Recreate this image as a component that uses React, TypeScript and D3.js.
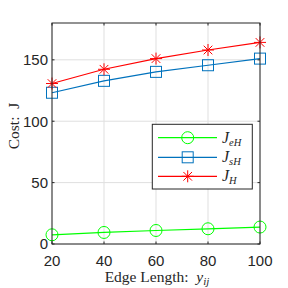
import React from "react";
import * as d3 from "d3";

const xValues = [20, 40, 60, 80, 100];
const seriesJeH = [7.5, 9.4, 11, 12.4, 13.8];
const seriesJsH = [123.2, 132.9, 140.2, 145.6, 151];
const seriesJH = [130.7, 142.3, 151, 158, 164.2];
const xTicks = [20, 40, 60, 80, 100];
const yTicks = [0, 50, 100, 150];

const W = 288, H = 288;
const L = 52, R = 260, T = 23, B = 244;

function Marker({ type, x, y, color }: { type: string; x: number; y: number; color: string }) {
  if (type === "circle") return <circle cx={x} cy={y} r={6} fill="none" stroke={color} strokeWidth={1} />;
  if (type === "square") return <rect x={x - 5.5} y={y - 5.5} width={11} height={11} fill="none" stroke={color} strokeWidth={1} />;
  const s = 6;
  const d = s * 0.72;
  return (
    <g stroke={color} strokeWidth={1}>
      <line x1={x - s} y1={y} x2={x + s} y2={y} />
      <line x1={x} y1={y - s} x2={x} y2={y + s} />
      <line x1={x - d} y1={y - d} x2={x + d} y2={y + d} />
      <line x1={x - d} y1={y + d} x2={x + d} y2={y - d} />
    </g>
  );
}

export default function App() {
  const x = d3.scaleLinear().domain([20, 100]).range([L, R]);
  const y = d3.scaleLinear().domain([0, 180]).range([B, T]);
  const line = d3.line<number>().x((_, i) => x(xValues[i])).y((d) => y(d));
  const series = [
    { data: seriesJeH, color: "#00FF00", marker: "circle", name: "eH" },
    { data: seriesJsH, color: "#0072BD", marker: "square", name: "sH" },
    { data: seriesJH, color: "#FF0000", marker: "star", name: "H" },
  ];
  const tickFont = "Liberation Sans, Arial, sans-serif";
  const serif = "Liberation Serif, Times New Roman, serif";
  const legendRows = [137.7, 157.3, 176.3];
  return (
    <svg width={W} height={H} style={{ position: "absolute", left: 0, top: 0, background: "#fff" }}>
      <rect x={0} y={0} width={W} height={H} fill="#fff" />
      <rect x={L} y={T} width={R - L} height={B - T} fill="#fff" />
      {xTicks.map((t) => (
        <line key={"gx" + t} x1={x(t)} x2={x(t)} y1={T} y2={B} stroke="#dfdfdf" strokeWidth={1} />
      ))}
      {yTicks.map((t) => (
        <line key={"gy" + t} x1={L} x2={R} y1={y(t)} y2={y(t)} stroke="#dfdfdf" strokeWidth={1} />
      ))}
      {series.map((s) => (
        <g key={s.name}>
          <path d={line(s.data) || ""} fill="none" stroke={s.color} strokeWidth={1.2} />
          {s.data.map((v, i) => (
            <Marker key={i} type={s.marker} x={x(xValues[i])} y={y(v)} color={s.color} />
          ))}
        </g>
      ))}
      <rect x={L} y={T} width={R - L} height={B - T} fill="none" stroke="#262626" strokeWidth={1} />
      {xTicks.map((t) => (
        <g key={"tx" + t}>
          <line x1={x(t)} x2={x(t)} y1={B} y2={B - 2.5} stroke="#262626" />
          <line x1={x(t)} x2={x(t)} y1={T} y2={T + 2.5} stroke="#262626" />
          <text x={x(t)} y={265.5} textAnchor="middle" fontFamily={tickFont} fontSize={15} fill="#262626">{t}</text>
        </g>
      ))}
      {yTicks.map((t) => (
        <g key={"ty" + t}>
          <line x1={L} x2={L + 2.5} y1={y(t)} y2={y(t)} stroke="#262626" />
          <line x1={R} x2={R - 2.5} y1={y(t)} y2={y(t)} stroke="#262626" />
          <text x={48} y={y(t) + 5.3} textAnchor="end" fontFamily={tickFont} fontSize={15} fill="#262626">{t}</text>
        </g>
      ))}
      <text x={157} y={281.5} textAnchor="middle" fontFamily={serif} fontSize={15.5} fill="#262626" xmlSpace="preserve">
        Edge Length:  <tspan fontStyle="italic">y</tspan><tspan fontStyle="italic" fontSize={11} dy={3}>ij</tspan>
      </text>
      <text transform="translate(19,126) rotate(-90)" textAnchor="middle" fontFamily={serif} fontSize={15.5} fill="#262626" xmlSpace="preserve">
        Cost:  J
      </text>
      <rect x={152.3} y={124.3} width={100} height={64.7} fill="#fff" stroke="#262626" strokeWidth={1} />
      {series.map((s, i) => (
        <g key={"lg" + s.name}>
          <line x1={158} x2={217} y1={legendRows[i]} y2={legendRows[i]} stroke={s.color} strokeWidth={1.2} />
          <Marker type={s.marker} x={187.7} y={legendRows[i]} color={s.color} />
          <text x={222} y={legendRows[i] + 5} fontFamily={serif} fontSize={16} fontStyle="italic" fill="#262626">
            J<tspan fontSize={10.5} dy={3}>{s.name === "H" ? "H" : s.name[0]}</tspan>
            {s.name !== "H" ? <tspan fontSize={10.5}>H</tspan> : null}
          </text>
        </g>
      ))}
    </svg>
  );
}
